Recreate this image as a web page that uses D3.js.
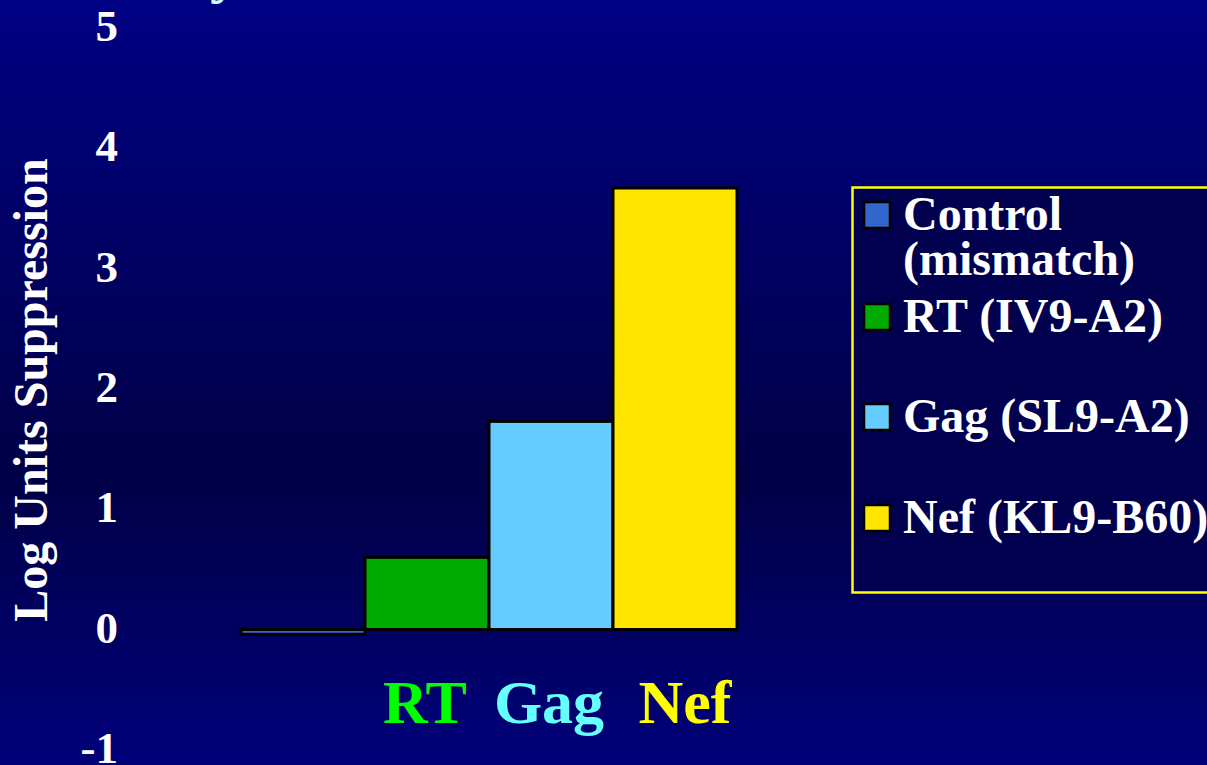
<!DOCTYPE html>
<html>
<head>
<meta charset="utf-8">
<script src="https://cdn.jsdelivr.net/npm/d3@7"></script>
<style>
  html, body { margin: 0; padding: 0; background: #000060; overflow: hidden; }
  svg { display: block; }
  text { font-family: "Liberation Serif", "Times New Roman", serif; font-weight: bold; }
</style>
</head>
<body>
<svg id="chart" width="1207" height="765"></svg>
<script>
// ---- data ----
const categories = ["Control", "RT", "Gag", "Nef"];
const values = [-0.04, 0.60, 1.73, 3.67];
const barColors = ["#3366CC", "#00AA00", "#66CCFF", "#FFE500"];
const yTicks = [-1, 0, 1, 2, 3, 4, 5];
const axisTitle = "Log Units Suppression";
const catLabels = ["RT", "Gag", "Nef"];
const catLabelColors = ["#00FF00", "#66FFFF", "#FFFF00"];
const legendLabels = [["Control", "(mismatch)"], ["RT (IV9-A2)"], ["Gag (SL9-A2)"], ["Nef (KL9-B60)"]];

const W = 1207, H = 765;
const svg = d3.select("#chart");

// background gradient
const defs = svg.append("defs");
const grad = defs.append("linearGradient").attr("id", "bg")
  .attr("x1", 0).attr("y1", 0).attr("x2", 0).attr("y2", 1);
grad.append("stop").attr("offset", "0%").attr("stop-color", "#000084");
grad.append("stop").attr("offset", "62%").attr("stop-color", "#000046");
grad.append("stop").attr("offset", "100%").attr("stop-color", "#00007A");
svg.append("rect").attr("width", W).attr("height", H).attr("fill", "url(#bg)");

// partially visible title (cut off at top)
svg.append("text").attr("x", 210).attr("y", -9)
  .attr("font-size", 62).attr("fill", "#CCFFFF").text("y");

// scales
const x = d3.scaleBand().domain(categories).range([241, 737]).paddingInner(0).paddingOuter(0);
const y = d3.scaleLinear().domain([-1, 5]).range([749.8, 28]);

// y tick labels
const yAxis = d3.axisLeft(y).tickValues(yTicks).tickFormat(d => String(d)).tickSize(0).tickPadding(0);
const gy = svg.append("g").attr("transform", "translate(118,0)").call(yAxis);
gy.select(".domain").remove();
gy.selectAll("text")
  .attr("font-family", "'Liberation Serif', 'Times New Roman', serif")
  .attr("font-weight", "bold")
  .attr("font-size", 45)
  .attr("fill", "#FFFFFF")
  .attr("dy", "0.28em");

// y axis title
svg.append("text")
  .attr("transform", "translate(47," + 390 + ") rotate(-90)")
  .attr("text-anchor", "middle")
  .attr("font-size", 48)
  .attr("fill", "#FFFFFF")
  .text(axisTitle);

// bars
svg.append("g").selectAll("rect").data(categories).join("rect")
  .attr("x", d => x(d))
  .attr("width", x.bandwidth())
  .attr("y", (d, i) => y(Math.max(0, values[i])))
  .attr("height", (d, i) => Math.abs(y(values[i]) - y(0)))
  .attr("fill", (d, i) => barColors[i])
  .attr("stroke", "#000000")
  .attr("stroke-width", 3);

// category labels below
svg.append("g").selectAll("text").data(catLabels).join("text")
  .attr("x", d => x(d) + x.bandwidth() / 2 + (d === "Nef" ? 10 : -2))
  .attr("y", 723)
  .attr("text-anchor", "middle")
  .attr("font-size", 62)
  .attr("fill", (d, i) => catLabelColors[i])
  .text(d => d);

// legend
const lg = svg.append("g");
lg.append("rect").attr("x", 852.5).attr("y", 187.5).attr("width", 380).attr("height", 405)
  .attr("fill", "#00004E").attr("stroke", "#FFFF00").attr("stroke-width", 2.5);
const legendBaselines = [230, 332, 432, 533];
const items = lg.selectAll("g.item").data(legendLabels).join("g").attr("class", "item");
items.append("rect")
  .attr("x", 864).attr("y", (d, i) => legendBaselines[i] - 28)
  .attr("width", 26).attr("height", 26)
  .attr("fill", (d, i) => barColors[i])
  .attr("stroke", "#000000").attr("stroke-width", 2.5);
items.each(function(lines, i) {
  const t = d3.select(this).append("text")
    .attr("x", 903).attr("y", legendBaselines[i])
    .attr("font-size", 48).attr("fill", "#FFFFFF");
  lines.forEach((ln, j) => {
    t.append("tspan").attr("x", 903).attr("dy", j === 0 ? 0 : 45).text(ln);
  });
});
</script>
</body>
</html>
